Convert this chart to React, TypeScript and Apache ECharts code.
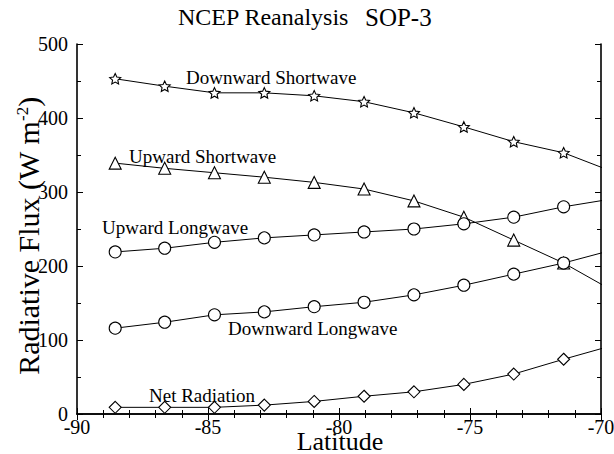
import React, { useEffect, useRef } from "react";
import * as echarts from "echarts";

const latitudes = [-88.542, -86.653, -84.753, -82.851, -80.947, -79.043, -77.139, -75.235, -73.331, -71.426, -69.522];
const downwardShortwave = [453, 443, 434, 434, 430, 422, 407, 388, 368, 353, 327];
const upwardShortwave = [339, 332, 326, 320, 313, 304, 288, 266, 235, 204, 166];
const upwardLongwave = [219, 224, 232, 238, 242, 246, 250, 257, 266, 280, 291];
const downwardLongwave = [116, 124, 134, 138, 145, 151, 161, 174, 189, 204, 222];
const netRadiation = [9, 9, 9, 12, 17, 24, 30, 40, 54, 74, 93];
const xTicks = [-90, -85, -80, -75, -70];
const yTicks = [0, 100, 200, 300, 400, 500];

const FONT = '"Liberation Serif", "Times New Roman", serif';
const STAR = "path://M50 0 L64.1 30.6 L97.6 34.5 L72.8 57.4 L79.4 90.5 L50 74 L20.6 90.5 L27.2 57.4 L2.4 34.5 L35.9 30.6 Z";

function mk(name: string, vals: number[], symbol: string, size: number) {
  return {
    name,
    type: "line",
    data: latitudes.map((x, i) => [x, vals[i]]),
    symbol,
    symbolSize: size,
    symbolKeepAspect: true,
    showAllSymbol: true,
    clip: true,
    lineStyle: { color: "#000", width: 1 },
    itemStyle: { color: "#fff", borderColor: "#000", borderWidth: 1.1 },
    z: 3,
  };
}

function txt(text: string, x: number, y: number, size: number, align: string = "left") {
  return {
    type: "text",
    x,
    y,
    style: { text, fontFamily: FONT, fontSize: size, fill: "#000", align, verticalAlign: "middle" },
  };
}

export default function App() {
  const ref = useRef<HTMLDivElement>(null);
  useEffect(() => {
    const chart = echarts.init(ref.current!, undefined, { renderer: "svg" });
    const axisLine = { show: true, lineStyle: { color: "#000", width: 1.6 } };
    const tick = { show: true, inside: true, length: 6, lineStyle: { color: "#000", width: 1 } };
    const minor = (n: number) => ({ show: true, splitNumber: n, length: 4, lineStyle: { color: "#000", width: 1 } });
    const base = (extra: any) => ({
      type: "value",
      axisLine,
      axisTick: tick,
      splitLine: { show: false },
      ...extra,
    });
    chart.setOption({
      animation: false,
      backgroundColor: "#fff",
      grid: { left: 77, right: 13, top: 44, bottom: 40, outerBoundsMode: "none", containLabel: false },
      xAxis: [
        base({
          min: xTicks[0],
          max: xTicks[xTicks.length - 1],
          interval: 5,
          minorTick: minor(5),
          axisLabel: { color: "#000", fontFamily: FONT, fontSize: 20, margin: 3 },
        }),
        base({
          position: "top",
          min: xTicks[0],
          max: xTicks[xTicks.length - 1],
          interval: 5,
          minorTick: minor(5),
          axisLabel: { show: false },
        }),
      ],
      yAxis: [
        base({
          min: yTicks[0],
          max: yTicks[yTicks.length - 1],
          interval: 100,
          minorTick: minor(2),
          axisLabel: { color: "#000", fontFamily: FONT, fontSize: 20, margin: 9 },
        }),
        base({
          position: "right",
          min: yTicks[0],
          max: yTicks[yTicks.length - 1],
          interval: 100,
          minorTick: minor(2),
          axisLabel: { show: false },
        }),
      ],
      series: [
        mk("Downward Shortwave", downwardShortwave, STAR, 11),
        mk("Upward Shortwave", upwardShortwave, "triangle", 12),
        mk("Upward Longwave", upwardLongwave, "circle", 12),
        mk("Downward Longwave", downwardLongwave, "circle", 12),
        mk("Net Radiation", netRadiation, "diamond", 12),
      ],
      graphic: [
        txt("NCEP Reanalysis", 178, 17, 24),
        txt("SOP-3", 365, 17, 25),
        txt("Downward Shortwave", 186, 77, 19),
        txt("Upward Shortwave", 129, 156, 19),
        txt("Upward Longwave", 102, 227, 19),
        txt("Downward Longwave", 228, 328, 19),
        txt("Net Radiation", 149, 395, 19),
        txt("Latitude", 340, 441, 26, "center"),
        {
          type: "text",
          x: 28,
          y: 236,
          rotation: Math.PI / 2,
          style: {
            text: "{a|Radiative Flux (W m}{s|-2}{a|)}",
            align: "center",
            verticalAlign: "middle",
            fill: "#000",
            fontFamily: FONT,
            fontSize: 30,
            rich: {
              a: { fontFamily: FONT, fontSize: 30, fill: "#000" },
              s: { fontFamily: FONT, fontSize: 17, fill: "#000", padding: [0, 0, 12, 0] },
            },
          },
        },
      ],
    });
    return () => chart.dispose();
  }, []);
  return <div ref={ref} style={{ position: "fixed", left: 0, top: 0, width: 614, height: 454 }} />;
}
